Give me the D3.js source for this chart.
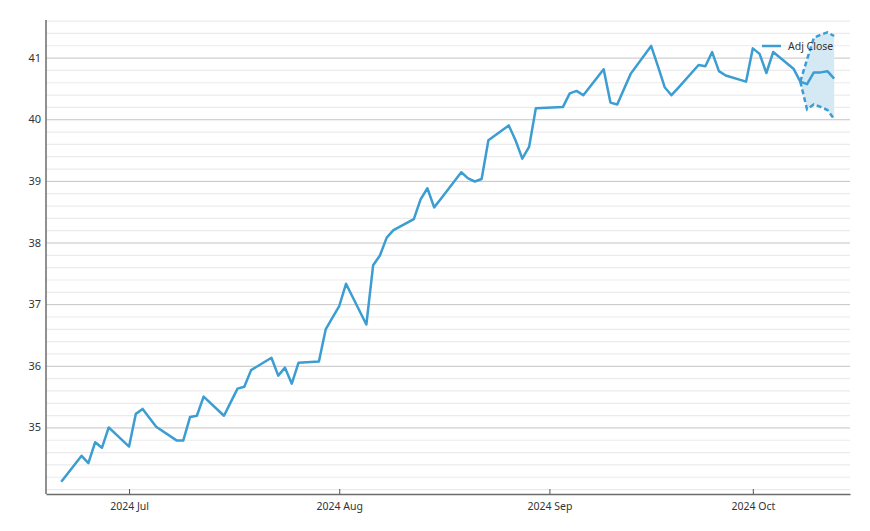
<!DOCTYPE html>
<html>
<head>
<meta charset="utf-8">
<script src="https://cdn.jsdelivr.net/npm/d3@7"></script>
<style>
  body { margin: 0; background: #fff; }
  text { font-family: "Noto Sans", sans-serif; }
</style>
</head>
<body>
<svg id="chart" width="870" height="531"></svg>
<script>
// Adj Close, trading days
var dates = [
  "2024-06-21","2024-06-24","2024-06-25","2024-06-26","2024-06-27","2024-06-28",
  "2024-07-01","2024-07-02","2024-07-03","2024-07-05","2024-07-08","2024-07-09",
  "2024-07-10","2024-07-11","2024-07-12","2024-07-15","2024-07-16","2024-07-17",
  "2024-07-18","2024-07-19","2024-07-22","2024-07-23","2024-07-24","2024-07-25",
  "2024-07-26","2024-07-29","2024-07-30","2024-07-31","2024-08-01","2024-08-02",
  "2024-08-05","2024-08-06","2024-08-07","2024-08-08","2024-08-09","2024-08-12",
  "2024-08-13","2024-08-14","2024-08-15","2024-08-16","2024-08-19","2024-08-20",
  "2024-08-21","2024-08-22","2024-08-23","2024-08-26","2024-08-27","2024-08-28",
  "2024-08-29","2024-08-30","2024-09-03","2024-09-04","2024-09-05","2024-09-06",
  "2024-09-09","2024-09-10","2024-09-11","2024-09-12","2024-09-13","2024-09-16",
  "2024-09-17","2024-09-18","2024-09-19","2024-09-20","2024-09-23","2024-09-24",
  "2024-09-25","2024-09-26","2024-09-27","2024-09-30","2024-10-01","2024-10-02",
  "2024-10-03","2024-10-04","2024-10-07","2024-10-08"
];
var adjClose = [
  34.12, 34.54, 34.42, 34.76, 34.67, 35.00,
  34.69, 35.22, 35.30, 35.01, 34.79, 34.79,
  35.17, 35.19, 35.50, 35.19, 35.41, 35.63,
  35.66, 35.93, 36.13, 35.84, 35.97, 35.71,
  36.05, 36.07, 36.59, 36.78, 36.97, 37.33,
  36.67, 37.63, 37.79, 38.08, 38.20, 38.38,
  38.70, 38.88, 38.57, 38.71, 39.14, 39.04,
  38.99, 39.03, 39.66, 39.90, 39.66, 39.36,
  39.55, 40.18, 40.20, 40.42, 40.46, 40.39,
  40.81, 40.27, 40.24, 40.49, 40.74, 41.19,
  40.86, 40.52, 40.39, 40.51, 40.88, 40.86,
  41.09, 40.78, 40.71, 40.61, 41.15, 41.06,
  40.75, 41.09, 40.82, 40.61
];

// forecast with band (starts at last actual day)
var fcDates = ["2024-10-08","2024-10-09","2024-10-10","2024-10-11","2024-10-12","2024-10-13"];
var fcMean  = [40.61, 40.57, 40.76, 40.76, 40.78, 40.66];
var fcUpper = [40.61, 40.97, 41.32, 41.37, 41.41, 41.35];
var fcLower = [40.61, 40.16, 40.24, 40.20, 40.15, 40.00];

var xTicks = ["2024-07-01","2024-08-01","2024-09-01","2024-10-01"];
var yMajor = [35, 36, 37, 38, 39, 40, 41];

var parse = d3.timeParse("%Y-%m-%d");
var lineColor = "#3b9dd2";

var svg = d3.select("#chart");
var plot = {left: 46, right: 850, top: 20, bottom: 494};

var x = d3.scaleTime()
    .domain([new Date(2024, 5, 18, 18), new Date(2024, 9, 15, 8)])
    .range([plot.left, plot.right]);
var y = d3.scaleLinear()
    .domain([33.92, 41.61])
    .range([plot.bottom, plot.top]);

// minor grid every 0.2
var yMinor = d3.range(34, 41.61, 0.2).map(v => Math.round(v * 10) / 10)
    .filter(v => yMajor.indexOf(v) < 0);

svg.append("g").selectAll("line")
    .data(yMinor).enter().append("line")
    .attr("x1", plot.left).attr("x2", plot.right)
    .attr("y1", d => y(d) + 0.5).attr("y2", d => y(d) + 0.5)
    .attr("stroke", "#ebebeb").attr("stroke-width", 1.2);

svg.append("g").selectAll("line")
    .data(yMajor).enter().append("line")
    .attr("x1", plot.left).attr("x2", plot.right)
    .attr("y1", d => y(d) + 0.5).attr("y2", d => y(d) + 0.5)
    .attr("stroke", "#c4c4c4").attr("stroke-width", 1);

// band
var fc = fcDates.map((d, i) => ({date: parse(d), mean: fcMean[i], up: fcUpper[i], lo: fcLower[i]}));

svg.append("path")
    .datum(fc)
    .attr("fill", "#d5e9f5")
    .attr("d", d3.area().x(d => x(d.date)).y0(d => y(d.lo)).y1(d => y(d.up)));

["up", "lo"].forEach(function(k) {
  svg.append("path")
      .datum(fc)
      .attr("fill", "none")
      .attr("stroke", lineColor)
      .attr("stroke-width", 2.5)
      .attr("stroke-dasharray", "5,3")
      .attr("d", d3.line().x(d => x(d.date)).y(d => y(d[k])));
});

// main line (actual + forecast mean)
var series = dates.map((d, i) => ({date: parse(d), v: adjClose[i]}))
    .concat(fc.slice(1).map(d => ({date: d.date, v: d.mean})));

svg.append("path")
    .datum(series)
    .attr("fill", "none")
    .attr("stroke", lineColor)
    .attr("stroke-width", 2.5)
    .attr("stroke-linejoin", "round")
    .attr("d", d3.line().x(d => x(d.date)).y(d => y(d.v)));

// axes
var xAxis = svg.append("g")
    .attr("transform", "translate(0," + plot.bottom + ")")
    .call(d3.axisBottom(x)
        .tickValues(xTicks.map(parse))
        .tickFormat(d3.timeFormat("%Y %b"))
        .tickSizeInner(-5).tickSizeOuter(0).tickPadding(9));
xAxis.select(".domain").attr("stroke", "#6b6b6b").attr("stroke-width", 1.5);
xAxis.selectAll(".tick line").attr("stroke", "#555");
xAxis.selectAll("text").attr("font-size", "10.5px").attr("fill", "#333");

var yAxis = svg.append("g")
    .attr("transform", "translate(" + plot.left + ",0)")
    .call(d3.axisLeft(y).tickValues(yMajor).tickFormat(d3.format("d"))
        .tickSize(0).tickPadding(5));
yAxis.select(".domain").attr("stroke", "#6b6b6b").attr("stroke-width", 1.5)
    .attr("d", "M0," + plot.top + "V" + plot.bottom);
yAxis.selectAll("text").attr("font-size", "11px").attr("fill", "#333");

// legend
var lg = svg.append("g").attr("transform", "translate(762,46)");
lg.append("line").attr("x1", 0).attr("x2", 19)
    .attr("stroke", lineColor).attr("stroke-width", 2.5);
lg.append("text").attr("x", 26).attr("y", 4)
    .attr("font-size", "10.5px").attr("fill", "#333")
    .text("Adj Close");
</script>
</body>
</html>
